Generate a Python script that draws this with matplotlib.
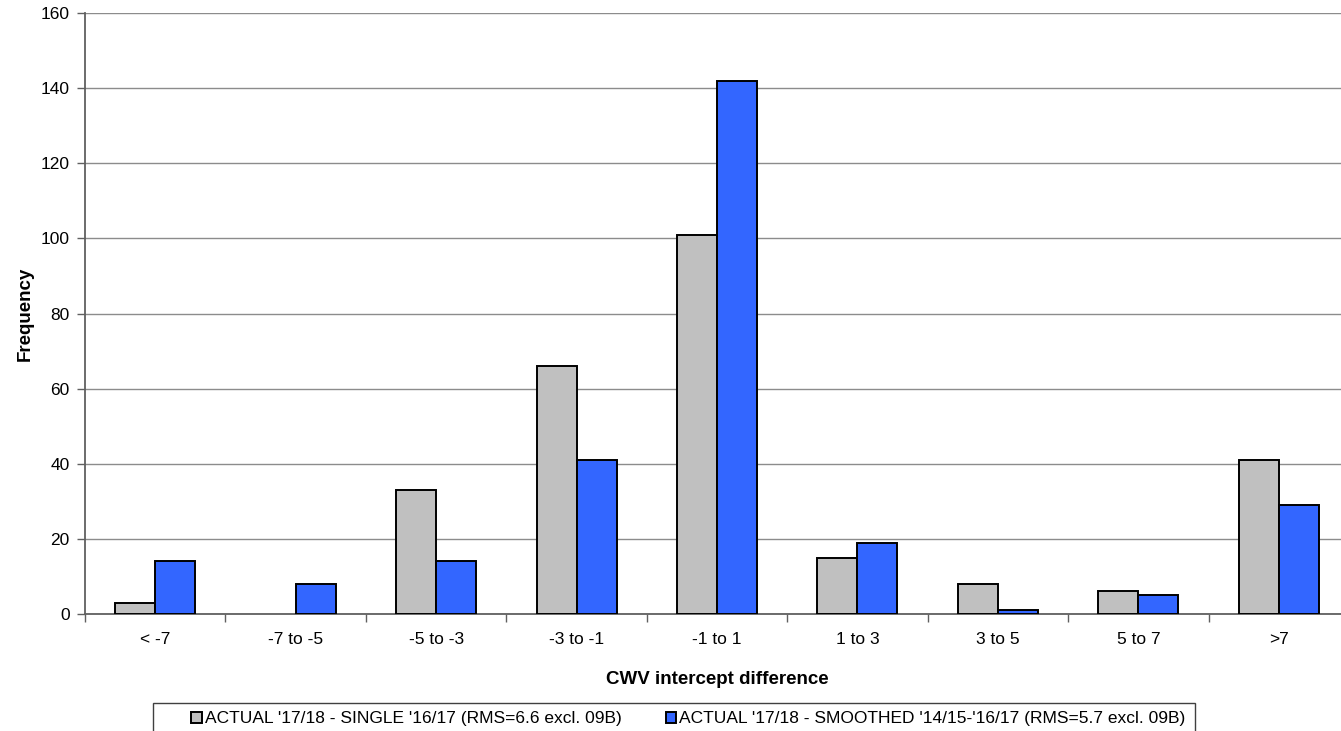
import numpy as np
import matplotlib.pyplot as plt
from matplotlib.patches import Rectangle
from matplotlib.ticker import FixedLocator, NullFormatter

plt.rcParams['font.family'] = ['Liberation Sans', 'DejaVu Sans']

# Kategoriler ve seriler
categories = ['< -7', '-7 to -5', '-5 to -3', '-3 to -1', '-1 to 1', '1 to 3', '3 to 5', '5 to 7', '>7']
single_1617 = [3, 0, 33, 66, 101, 15, 8, 6, 41]
smoothed_1415_1617 = [14, 8, 14, 41, 142, 19, 1, 5, 29]
series_labels = ["ACTUAL '17/18 - SINGLE '16/17 (RMS=6.6 excl. 09B)",
                 "ACTUAL '17/18 - SMOOTHED '14/15-'16/17 (RMS=5.7 excl. 09B)"]

fig = plt.figure(figsize=(13.41, 7.31), dpi=100)
ax = fig.add_axes([85 / 1341, 117 / 731, 1264 / 1341, 601 / 731])

x = np.arange(len(categories))
w = 0.285
# sıfır yükseklikli çubuklarda kenar çizgisi yok
ax.bar(x - w / 2, single_1617, w, color='#C0C0C0', edgecolor='black',
       linewidth=[1.4 if v else 0 for v in single_1617], label=series_labels[0], zorder=3)
ax.bar(x + w / 2, smoothed_1415_1617, w, color='#3366FF', edgecolor='black',
       linewidth=[1.4 if v else 0 for v in smoothed_1415_1617], label=series_labels[1], zorder=3)

ax.set_xlim(-0.5, len(categories) - 0.5)
ax.set_ylim(0, 160)
ax.set_yticks(range(0, 161, 20))
ax.set_xticks(x)
ax.set_xticklabels(categories)
ax.tick_params(axis='x', which='major', length=0, pad=13, labelsize=12.5)
ax.xaxis.set_minor_locator(FixedLocator(np.arange(-0.5, len(categories), 1)))
ax.xaxis.set_minor_formatter(NullFormatter())
ax.tick_params(axis='x', which='minor', length=6, color='#606060', width=1)
ax.tick_params(axis='y', length=6, color='#606060', width=1, labelsize=12.5, pad=5)

ax.yaxis.grid(True, color='#8C8C8C', linewidth=1, zorder=0)
ax.set_axisbelow(True)
for s in ['top', 'right']:
    ax.spines[s].set_visible(False)
ax.spines['left'].set_color('#606060')
ax.spines['left'].set_linewidth(1.3)
ax.spines['bottom'].set_color('#606060')
ax.spines['bottom'].set_linewidth(1.3)

ax.set_xlabel('CWV intercept difference', fontsize=13.5, fontweight='bold', labelpad=17)
ax.set_ylabel('Frequency', fontsize=13.5, fontweight='bold', labelpad=5)

# lejant çerçevesi (alt kenar görüntünün dışında)
fig.patches.append(Rectangle((153 / 1341, -0.05), (1195 - 153) / 1341, 0.05 + 28 / 731,
                             transform=fig.transFigure, facecolor='white',
                             edgecolor='#404040', linewidth=1.0))
fig.legend(loc='upper left', bbox_to_anchor=(188 / 1341, 1 - 708 / 731), ncol=2,
           fontsize=12.5, frameon=False,
           handlelength=0.6, handleheight=0.6, handletextpad=0.2, columnspacing=2.5,
           borderpad=0.2, borderaxespad=0)

fig.savefig('out.png', dpi=100)
